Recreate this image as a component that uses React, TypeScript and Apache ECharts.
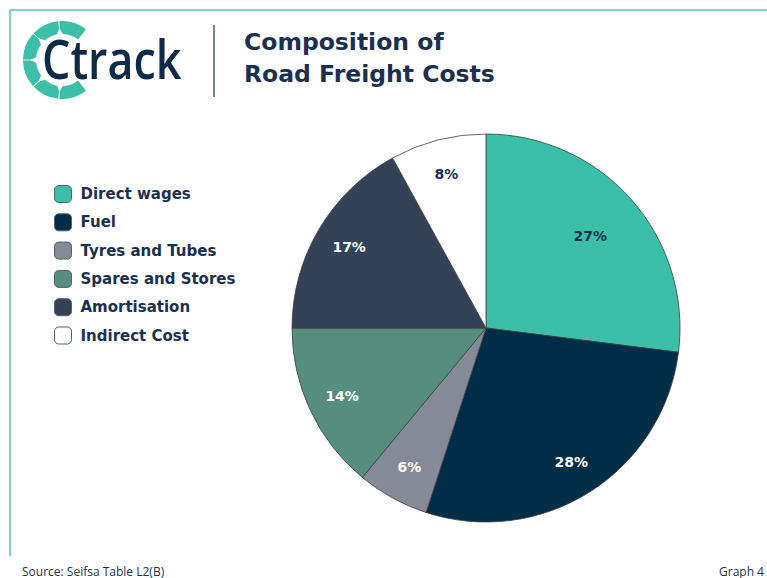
import React, { useEffect, useRef } from "react";
import * as echarts from "echarts";

const categories = ["Direct wages", "Fuel", "Tyres and Tubes", "Spares and Stores", "Amortisation", "Indirect Cost"];
const shares = [27, 28, 6, 14, 17, 8];
const sliceColors = ["#3bbfa8", "#022d47", "#858a98", "#558e7e", "#334257", "#ffffff"];
const labelColors = ["#1b3050", "#ffffff", "#ffffff", "#ffffff", "#ffffff", "#1b3050"];
const titleLines = ["Composition of", "Road Freight Costs"];
const sourceText = "Source: Seifsa Table L2(B)";
const graphText = "Graph 4";

const NAVY = "#1b3050";
const TEAL = "#3bbfa8";
const BOLD_FONT = "'DejaVu Sans', sans-serif";

function logoElements() {
  const cx = 62, cy = 60, r = 39, r0 = 26;
  const start = 52, end = 308, n = 6, gap = 1.6;
  const seg = (end - start) / n;
  const els: any[] = [];
  const rad = (d: number) => (d * Math.PI) / 180;
  for (let i = 0; i < n; i++) {
    const a0 = start + i * seg + (i === 0 ? 0 : gap / 2);
    const a1 = start + (i + 1) * seg - (i === n - 1 ? 0 : gap / 2);
    els.push({
      type: "sector",
      shape: { cx, cy, r, r0, startAngle: rad(a0), endAngle: rad(a1), clockwise: true },
      style: { fill: TEAL },
    });
  }
  for (let i = 1; i < n; i++) {
    const a = start + i * seg;
    const p = (rr: number, d: number) => [cx + rr * Math.cos(rad(d)), cy + rr * Math.sin(rad(d))];
    els.push({
      type: "polygon",
      shape: { points: [p(r0 - 0.5, a - 7), p(r0 - 0.5, a + 7), p(r0 + 6, a)] },
      style: { fill: "#ffffff" },
    });
  }
  return els;
}

export default function App() {
  const ref = useRef<HTMLDivElement>(null);
  useEffect(() => {
    document.body.style.margin = "0";
    if (!ref.current) return;
    const chart = echarts.init(ref.current, undefined, { renderer: "svg" });
    const pieData = categories.map((name, i) => ({
      name,
      value: shares[i],
      itemStyle: { color: sliceColors[i] },
    }));
    const labelData = (pick: (i: number) => boolean) =>
      categories.map((name, i) => ({
        name,
        value: shares[i],
        label: { show: pick(i), color: labelColors[i] },
      }));
    const labelSeries = (radius: number[], pick: (i: number) => boolean) => ({
      type: "pie",
      center: [486, 328],
      radius,
      silent: true,
      startAngle: 90,
      clockwise: true,
      avoidLabelOverlap: false,
      itemStyle: { color: "rgba(0,0,0,0)", borderWidth: 0 },
      label: {
        position: "inside",
        formatter: "{c}%",
        fontFamily: BOLD_FONT,
        fontWeight: "bold",
        fontSize: 14,
      },
      labelLine: { show: false },
      emphasis: { disabled: true },
      data: labelData(pick),
    });
    chart.setOption({
      animation: false,
      backgroundColor: "#ffffff",
      legend: {
        orient: "vertical",
        left: 49,
        top: 180,
        icon: "roundRect",
        itemWidth: 17,
        itemHeight: 17,
        itemGap: 10.3,
        selectedMode: false,
        textStyle: {
          color: NAVY,
          fontFamily: BOLD_FONT,
          fontWeight: "bold",
          fontSize: 15,
          padding: [0, 0, 0, 4],
        },
        data: categories.map((name, i) => ({
          name,
          itemStyle: { color: sliceColors[i], borderColor: "#5a5f6a", borderWidth: 1 },
        })),
      },
      series: [
        {
          type: "pie",
          center: [486, 328],
          radius: [0, 194],
          startAngle: 90,
          clockwise: true,
          silent: true,
          itemStyle: { borderColor: "#3c3f45", borderWidth: 0.8 },
          label: { show: false },
          labelLine: { show: false },
          data: pieData,
        },
        labelSeries([78, 194], (i) => i === 0),
        labelSeries([118, 194], (i) => i !== 0),
      ],
      graphic: [
        { type: "line", shape: { x1: 10, y1: 10, x2: 767, y2: 10 }, style: { stroke: "#7fd5c3", lineWidth: 2 } },
        { type: "line", shape: { x1: 10, y1: 10, x2: 10, y2: 556 }, style: { stroke: "#7fd5c3", lineWidth: 2 } },
        { type: "line", shape: { x1: 214, y1: 25, x2: 214, y2: 97 }, style: { stroke: "#4a5a70", lineWidth: 1.5 } },
        ...logoElements(),
        {
          type: "text",
          x: 42,
          y: 58,
          scaleX: 0.83,
          style: {
            text: "Ctrack",
            fill: "#0f2a47",
            fontFamily: "'Open Sans', sans-serif",
            fontWeight: 600,
            fontSize: 54,
            textAlign: "left",
            textVerticalAlign: "middle",
          },
        },
        {
          type: "text",
          x: 244,
          y: 42,
          style: {
            text: titleLines[0],
            fill: NAVY,
            fontFamily: BOLD_FONT,
            fontWeight: "bold",
            fontSize: 23.5,
            textVerticalAlign: "middle",
          },
        },
        {
          type: "text",
          x: 244,
          y: 74,
          style: {
            text: titleLines[1],
            fill: NAVY,
            fontFamily: BOLD_FONT,
            fontWeight: "bold",
            fontSize: 23.5,
            textVerticalAlign: "middle",
          },
        },
        {
          type: "text",
          x: 22,
          y: 571,
          style: {
            text: sourceText,
            fill: NAVY,
            fontFamily: "'Open Sans', sans-serif",
            fontSize: 12,
            textVerticalAlign: "middle",
          },
        },
        {
          type: "text",
          x: 719,
          y: 571,
          style: {
            text: graphText,
            fill: NAVY,
            fontFamily: "'Open Sans', sans-serif",
            fontSize: 12,
            textVerticalAlign: "middle",
          },
        },
      ],
    });
    return () => chart.dispose();
  }, []);
  return <div ref={ref} style={{ width: 767, height: 578 }} />;
}
